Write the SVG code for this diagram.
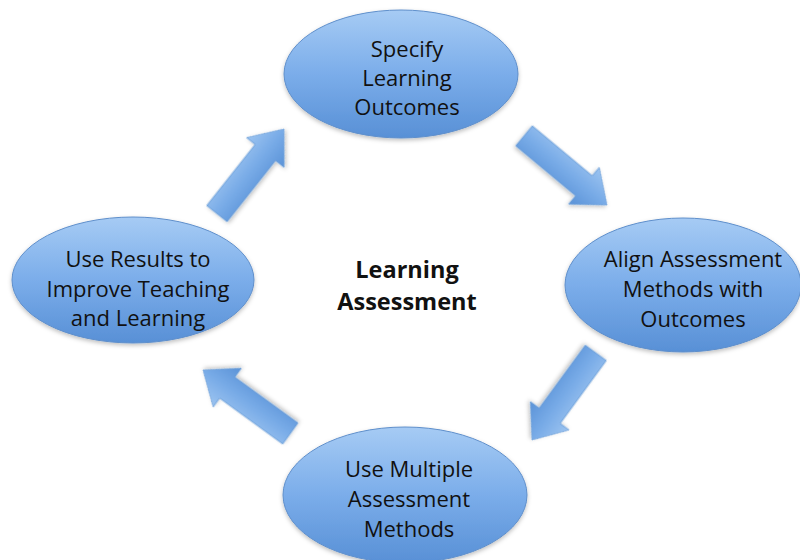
<svg xmlns="http://www.w3.org/2000/svg" width="800" height="560" viewBox="0 0 800 560">
  <defs>
    <linearGradient id="gEll" x1="0" y1="0" x2="0" y2="1">
      <stop offset="0" stop-color="#a6cbf4"/>
      <stop offset="0.5" stop-color="#7badea"/>
      <stop offset="1" stop-color="#5890d6"/>
    </linearGradient>
    <linearGradient id="gArr" x1="0" y1="0" x2="0" y2="1">
      <stop offset="0" stop-color="#9cc4f0"/>
      <stop offset="0.5" stop-color="#78abe7"/>
      <stop offset="1" stop-color="#5a92d7"/>
    </linearGradient>
    <filter id="sh" x="-10%" y="-10%" width="120%" height="130%">
      <feDropShadow dx="0" dy="2" stdDeviation="2" flood-color="#000" flood-opacity="0.25"/>
    </filter>
    <path id="arrow" d="M0,0 L-30,-24 L-30,-13 L-108,-13 L-108,13 L-30,13 L-30,24 Z"/>
  </defs>
  <style>
    .ell { fill: url(#gEll); stroke: #5f8fcb; stroke-width: 1; filter: url(#sh); }
    .arr { fill: url(#gArr); stroke: #6d9fd8; stroke-width: 0.8; filter: url(#sh); }
    .lbl { font-family: "Open Sans", "Liberation Sans", sans-serif; font-size: 22px; fill: #111; text-anchor: middle; }
    .ctr { font-family: "Open Sans", "Liberation Sans", sans-serif; font-size: 23.5px; font-weight: bold; fill: #111; text-anchor: middle; }
  </style>
  <rect width="800" height="560" fill="#fff"/>

  <g id="connectors">
    <use href="#arrow" class="arr" transform="translate(284,129) rotate(-51.6)"/>
    <use href="#arrow" class="arr" transform="translate(607,205) rotate(39.8)"/>
    <use href="#arrow" class="arr" transform="translate(532,440) rotate(126.2)"/>
    <use href="#arrow" class="arr" transform="translate(203,370) rotate(-144)"/>
  </g>

  <g id="node-specify">
    <ellipse class="ell" cx="401" cy="74" rx="117" ry="64"/>
    <text class="lbl" x="407" y="57">Specify</text>
    <text class="lbl" x="407" y="86">Learning</text>
    <text class="lbl" x="407" y="115">Outcomes</text>
  </g>

  <g id="node-align">
    <ellipse class="ell" cx="683" cy="285" rx="118" ry="67"/>
    <text class="lbl" x="693" y="267">Align Assessment</text>
    <text class="lbl" x="693" y="297">Methods with</text>
    <text class="lbl" x="693" y="327">Outcomes</text>
  </g>

  <g id="node-multiple">
    <ellipse class="ell" cx="405" cy="495" rx="122" ry="68"/>
    <text class="lbl" x="409" y="477">Use Multiple</text>
    <text class="lbl" x="409" y="507">Assessment</text>
    <text class="lbl" x="409" y="537">Methods</text>
  </g>

  <g id="node-results">
    <ellipse class="ell" cx="133" cy="280" rx="121" ry="63"/>
    <text class="lbl" x="138" y="267">Use Results to</text>
    <text class="lbl" x="138" y="297">Improve Teaching</text>
    <text class="lbl" x="138" y="326">and Learning</text>
  </g>

  <g id="center-label">
    <text class="ctr" x="407" y="278">Learning</text>
    <text class="ctr" x="407" y="310">Assessment</text>
  </g>
</svg>
